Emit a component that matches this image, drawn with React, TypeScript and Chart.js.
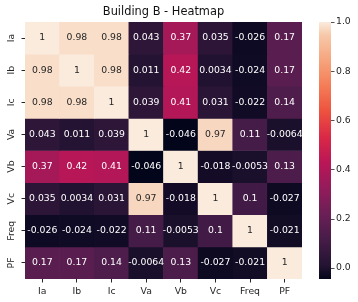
import React, { useEffect, useRef } from 'react';
import { Chart, registerables } from 'chart.js';
Chart.register(...registerables);

const labels = ['Ia', 'Ib', 'Ic', 'Va', 'Vb', 'Vc', 'Freq', 'PF'];
const rowIa = [1, 0.98, 0.98, 0.043, 0.37, 0.035, -0.026, 0.17];
const rowIb = [0.98, 1, 0.98, 0.011, 0.42, 0.0034, -0.024, 0.17];
const rowIc = [0.98, 0.98, 1, 0.039, 0.41, 0.031, -0.022, 0.14];
const rowVa = [0.043, 0.011, 0.039, 1, -0.046, 0.97, 0.11, -0.0064];
const rowVb = [0.37, 0.42, 0.41, -0.046, 1, -0.018, -0.0053, 0.13];
const rowVc = [0.035, 0.0034, 0.031, 0.97, -0.018, 1, 0.1, -0.027];
const rowFreq = [-0.026, -0.024, -0.022, 0.11, -0.0053, 0.1, 1, -0.021];
const rowPF = [0.17, 0.17, 0.14, -0.0064, 0.13, -0.027, -0.021, 1];
const matrix = [rowIa, rowIb, rowIc, rowVa, rowVb, rowVc, rowFreq, rowPF];
const cbTicks = [0, 0.2, 0.4, 0.6, 0.8, 1.0];
const vmin = -0.046;
const vmax = 1;

const FONT = "'DejaVu Sans', sans-serif";
const TEXT = '#262626';
const FS = 9.3;

const rocket: [number, string][] = [
  [0.0, '#03051a'],
  [0.05, '#221331'],
  [0.15, '#451c47'],
  [0.25, '#691f55'],
  [0.35, '#921c5b'],
  [0.45, '#b91657'],
  [0.55, '#d92847'],
  [0.65, '#ed513e'],
  [0.75, '#f47c56'],
  [0.85, '#f6a47c'],
  [0.95, '#f7c9aa'],
  [1.0, '#faebdd'],
];

function hexToRgb(h: string) {
  const n = parseInt(h.slice(1), 16);
  return [(n >> 16) & 255, (n >> 8) & 255, n & 255];
}

function cmapRgb(t: number) {
  t = Math.max(0, Math.min(1, t));
  for (let i = 1; i < rocket.length; i++) {
    if (t <= rocket[i][0]) {
      const [t0, c0] = rocket[i - 1];
      const [t1, c1] = rocket[i];
      const f = (t - t0) / (t1 - t0);
      const a = hexToRgb(c0);
      const b = hexToRgb(c1);
      return a.map((v, k) => Math.round(v + (b[k] - v) * f));
    }
  }
  return hexToRgb(rocket[rocket.length - 1][1]);
}

function colorFor(v: number) {
  const [r, g, b] = cmapRgb((v - vmin) / (vmax - vmin));
  return `rgb(${r},${g},${b})`;
}

function isLight(v: number) {
  const [r, g, b] = cmapRgb((v - vmin) / (vmax - vmin)).map((c) => {
    const s = c / 255;
    return s <= 0.03928 ? s / 12.92 : Math.pow((s + 0.055) / 1.055, 2.4);
  });
  return 0.2126 * r + 0.7152 * g + 0.0722 * b > 0.408;
}

function fmt(v: number) {
  return parseFloat(v.toPrecision(2)).toString();
}

const annotatePlugin = {
  id: 'annotate',
  afterDatasetsDraw(chart: any) {
    const { ctx } = chart;
    const xs = chart.scales.x;
    const ys = chart.scales.y;
    ctx.save();
    ctx.font = `${FS}px ${FONT}`;
    ctx.textAlign = 'center';
    ctx.textBaseline = 'middle';
    matrix.forEach((row, r) => {
      row.forEach((v, c) => {
        ctx.fillStyle = isLight(v) ? TEXT : '#ffffff';
        ctx.fillText(fmt(v), xs.getPixelForValue(c), ys.getPixelForValue(r));
      });
    });
    ctx.restore();
  },
};

const colorbarPlugin = {
  id: 'colorbar',
  afterDraw(chart: any) {
    const { ctx } = chart;
    const cb = chart.scales.cb;
    const x0 = cb.left + 17;
    const w = 12;
    const top = cb.getPixelForValue(vmax);
    const bottom = cb.getPixelForValue(vmin);
    const grad = ctx.createLinearGradient(0, bottom, 0, top);
    rocket.forEach(([t, c]) => grad.addColorStop(t, c));
    ctx.save();
    ctx.fillStyle = grad;
    ctx.fillRect(x0, top, w, bottom - top);
    ctx.strokeStyle = TEXT;
    ctx.lineWidth = 0.8;
    cbTicks.forEach((v) => {
      const y = Math.round(cb.getPixelForValue(v)) + 0.5;
      ctx.beginPath();
      ctx.moveTo(x0 + w, y);
      ctx.lineTo(x0 + w + 3.5, y);
      ctx.stroke();
    });
    ctx.restore();
  },
};

export default function App() {
  const ref = useRef<HTMLCanvasElement | null>(null);
  useEffect(() => {
    if (!ref.current) return;
    const datasets = matrix.map((row, r) => ({
      label: labels[r],
      data: row.map(() => [r - 0.5, r + 0.5]),
      backgroundColor: row.map(colorFor),
      borderWidth: 0,
      grouped: false,
      barPercentage: 1,
      categoryPercentage: 1,
    }));
    const chart = new Chart(ref.current, {
      type: 'bar',
      data: { labels, datasets: datasets as any },
      options: {
        responsive: false,
        animation: false,
        devicePixelRatio: 1,
        layout: { padding: 0 },
        plugins: {
          legend: { display: false },
          tooltip: { enabled: false },
          title: {
            display: true,
            fullSize: false,
            text: 'Building B - Heatmap',
            color: '#111',
            font: { family: FONT, size: 11.4, weight: 'normal' },
            padding: { top: 5.4, bottom: 2.9 },
          },
        },
        scales: {
          x: {
            type: 'category',
            offset: true,
            grid: { drawOnChartArea: false, drawTicks: true, tickLength: 3.5, color: TEXT, offset: false },
            border: { display: false },
            ticks: { color: TEXT, font: { family: FONT, size: FS }, padding: 3.5, maxRotation: 0, minRotation: 0 },
            afterFit: (s: any) => { s.height = 23; s.paddingLeft = 0; s.paddingRight = 0; },
          },
          y: {
            type: 'linear',
            reverse: true,
            min: -0.5,
            max: 7.5,
            grid: { drawOnChartArea: false, drawTicks: true, tickLength: 3.5, color: TEXT },
            border: { display: false },
            afterBuildTicks: (s: any) => { s.ticks = labels.map((_, i) => ({ value: i })); },
            ticks: {
              color: TEXT,
              font: { family: FONT, size: FS },
              minRotation: 90,
              maxRotation: 90,
              crossAlign: 'center',
              padding: 0,
              callback: (v: any) => labels[v as number],
            },
            afterFit: (s: any) => { s.width = 25; s.paddingTop = 0; s.paddingBottom = 0; },
          },
          cb: {
            type: 'linear',
            position: 'right',
            min: vmin,
            max: vmax,
            grid: { display: false, drawTicks: false },
            border: { display: false },
            afterBuildTicks: (s: any) => { s.ticks = cbTicks.map((v) => ({ value: v })); },
            ticks: {
              color: TEXT,
              font: { family: FONT, size: FS },
              padding: 34,
              callback: (v: any) => Number(v).toFixed(1),
            },
            afterFit: (s: any) => { s.width = 56; s.paddingTop = 0; s.paddingBottom = 0; },
          },
        },
      },
      plugins: [annotatePlugin, colorbarPlugin],
    } as any);
    return () => chart.destroy();
  }, []);
  return (
    <div style={{ position: 'fixed', left: 0, top: 0, width: 358, height: 302, background: '#fff' }}>
      <canvas ref={ref} width={358} height={302} style={{ display: 'block' }} />
    </div>
  );
}
